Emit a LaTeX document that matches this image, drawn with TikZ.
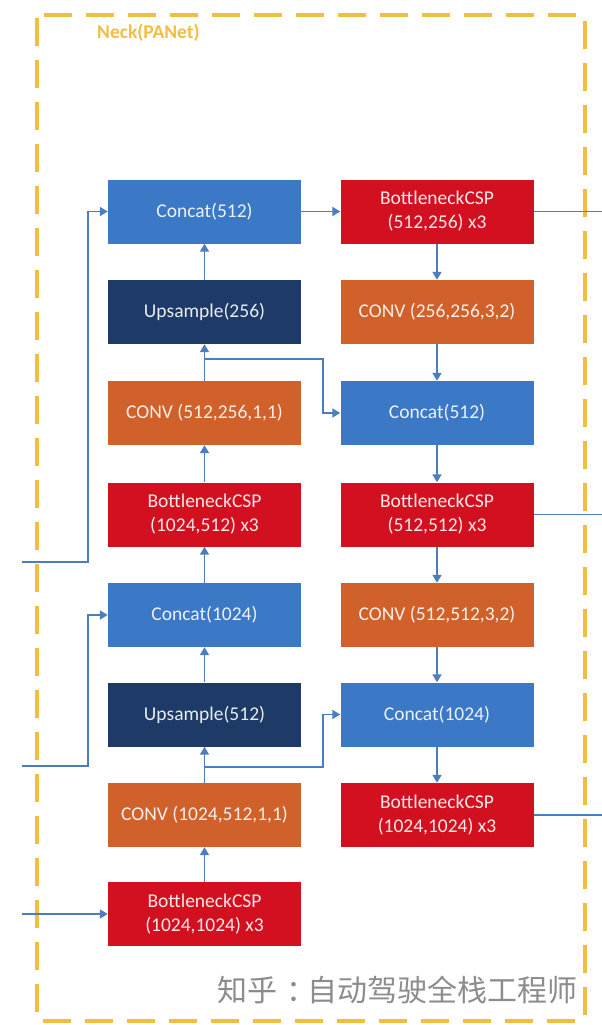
\documentclass[tikz,border=0pt]{standalone}
\usepackage{fontspec}
\setmainfont{Carlito}
\newfontfamily\cjk{Noto Sans CJK SC}
\usetikzlibrary{arrows.meta}
\definecolor{concatblue}{HTML}{3B78C6}
\definecolor{upnavy}{HTML}{1E3A66}
\definecolor{convorange}{HTML}{D0612A}
\definecolor{cspred}{HTML}{D2101F}
\definecolor{linkblue}{HTML}{4C7EBF}
\definecolor{neckgold}{HTML}{F2BE42}
\definecolor{markgray}{HTML}{8C8C8C}
\tikzset{
  blk/.style={minimum width=193pt, minimum height=64pt, inner sep=0pt,
    text=white, text opacity=0.9, align=center,
    font=\fontsize{19.5}{24}\selectfont},
  concatbox/.style={blk, fill=concatblue},
  upbox/.style={blk, fill=upnavy},
  convbox/.style={blk, fill=convorange},
  cspbox/.style={blk, fill=cspred},
  link/.style={draw=linkblue, line width=1.8pt},
  arr/.style={link, -{Triangle[width=9pt,length=8pt]}},
}
\begin{document}
\begin{tikzpicture}[x=1pt,y=-1pt]
\useasboundingbox (0,0) rectangle (602,1025);
\fill[white] (0,0) rectangle (602,1025);

% dashed frame of the neck
\draw[neckgold, line width=3.5pt, dash pattern=on 28pt off 14pt, rounded corners=3pt]
  (37,15) rectangle (585,1021);
\node[anchor=west, text=neckgold, font=\bfseries\fontsize{19.5}{22}\selectfont, inner sep=0pt]
  (necklabel) at (97,33) {Neck(PANet)};

% left column (bottom-up path)
\node[concatbox] (cat512L)  at (204.5,211.5) {Concat(512)};
\node[upbox]     (up256)    at (204.5,312)   {Upsample(256)};
\node[convbox]   (conv512)  at (204.5,413)   {CONV (512,256,1,1)};
\node[cspbox]    (csp1024a) at (204.5,514.5) {BottleneckCSP\\(1024,512) x3};
\node[concatbox] (cat1024L) at (204.5,615)   {Concat(1024)};
\node[upbox]     (up512)    at (204.5,714.5) {Upsample(512)};
\node[convbox]   (conv1024) at (204.5,815)   {CONV (1024,512,1,1)};
\node[cspbox]    (csp1024b) at (204.5,914)   {BottleneckCSP\\(1024,1024) x3};

% right column (top-down path)
\node[cspbox]    (csp256)   at (437,211.5) {BottleneckCSP\\(512,256) x3};
\node[convbox]   (conv256)  at (437,312)   {CONV (256,256,3,2)};
\node[concatbox] (cat512R)  at (437,413)   {Concat(512)};
\node[cspbox]    (csp512)   at (437,514.5) {BottleneckCSP\\(512,512) x3};
\node[convbox]   (convr512) at (437,615)   {CONV (512,512,3,2)};
\node[concatbox] (cat1024R) at (437,714.5) {Concat(1024)};
\node[cspbox]    (cspout)   at (437,815)   {BottleneckCSP\\(1024,1024) x3};

% inputs from the backbone
\coordinate (in1) at (22,562);
\coordinate (in2) at (22,766);
\coordinate (in3) at (22,914);
\draw[arr] (in1) -- (88,562) |- (cat512L.west);
\draw[arr] (in2) -- (88,766) |- (cat1024L.west);
\draw[arr] (in3) -- (csp1024b.west);

% left column, upwards
\draw[arr] (csp1024b.north) -- (conv1024.south);
\draw[arr] (conv1024.north) -- (up512.south);
\draw[arr] (up512.north) -- (cat1024L.south);
\draw[arr] (cat1024L.north) -- (csp1024a.south);
\draw[arr] (csp1024a.north) -- (conv512.south);
\draw[arr] (conv512.north) -- (up256.south);
\draw[arr] (up256.north) -- (cat512L.south);

% lateral branches
\coordinate (br1) at (204.5,359);
\coordinate (br2) at (204.5,767);
\draw[arr] (br1) -- (323,359) |- (cat512R.west);
\draw[arr] (br2) -- (323,767) |- (cat1024R.west);
\draw[arr] (cat512L.east) -- (csp256.west);

% right column, downwards
\draw[arr] (csp256.south) -- (conv256.north);
\draw[arr] (conv256.south) -- (cat512R.north);
\draw[arr] (cat512R.south) -- (csp512.north);
\draw[arr] (csp512.south) -- (convr512.north);
\draw[arr] (convr512.south) -- (cat1024R.north);
\draw[arr] (cat1024R.south) -- (cspout.north);

% outputs to the head
\coordinate (out1) at (602,211.5);
\coordinate (out2) at (602,514.5);
\coordinate (out3) at (602,815);
\draw[link] (csp256.east) -- (out1);
\draw[link] (csp512.east) -- (out2);
\draw[link] (cspout.east) -- (out3);

% author mark
\node[anchor=west, text=markgray, font=\cjk\fontsize{30}{34}\selectfont, inner sep=0pt]
  (mark) at (217,990) {知乎\kern9pt：\kern-9pt自动驾驶全栈工程师};
\end{tikzpicture}
\end{document}
